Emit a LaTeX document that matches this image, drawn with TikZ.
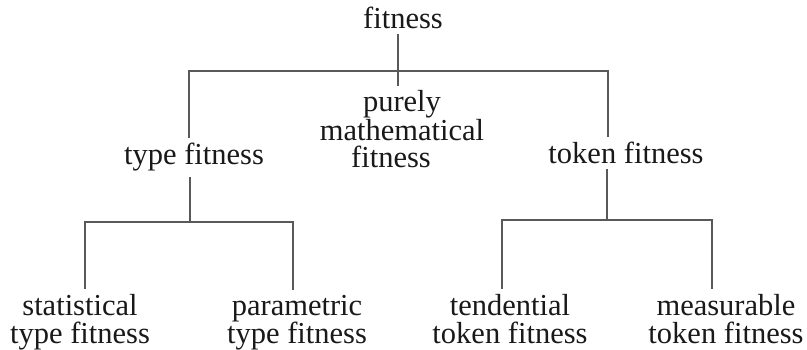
\documentclass[tikz,border=0pt]{standalone}
\usepackage{fontspec}
\setmainfont{Liberation Serif}
\begin{document}
\begin{tikzpicture}[x=1pt,y=-1pt,
  lbl/.style={font=\fontsize{30.5}{28}\selectfont, inner xsep=0pt, inner ysep=5pt, anchor=base, align=center, text=black!90},
  con/.style={draw=black!65, line width=1.2pt}]
\useasboundingbox (0,0) rectangle (807,350);
% nodes (anchor base = baseline of the last line)
\node[lbl] (root) at (403,29) {fitness};
\node[lbl] (pure) at (402,168) {purely\\mathematical\\fitness\kern22pt};
\node[lbl] (typef) at (194,165) {type fitness};
\node[lbl] (tokenf) at (626,164) {token fitness};
\node[lbl] (stat) at (80,343) {statistical\\type fitness};
\node[lbl] (param) at (297,343) {parametric\\type fitness};
\node[lbl] (tend) at (510,343) {tendential\\token fitness};
\node[lbl] (meas) at (726,343) {measurable\\token fitness};
% junction coordinates
\coordinate (cx) at (398,71);
\coordinate (ja) at (189,71);
\coordinate (jb) at (608,71);
\coordinate (ta) at (190,222);
\coordinate (tl) at (85,222);
\coordinate (tr) at (293,222);
\coordinate (ka) at (607,220);
\coordinate (kl) at (502,220);
\coordinate (kr) at (712,220);
% connectors
\draw[con] (root.south -| cx) -- (pure.north -| cx);
\draw[con] (typef.north -| ja) -- (ja) -- (jb) -- (tokenf.north -| jb);
\draw[con] (typef.south -| ta) -- (ta);
\draw[con] (stat.north -| tl) -- (tl) -- (tr) -- (param.north -| tr);
\draw[con] (tokenf.south -| ka) -- (ka);
\draw[con] (tend.north -| kl) -- (kl) -- (kr) -- (meas.north -| kr);
\end{tikzpicture}
\end{document}
